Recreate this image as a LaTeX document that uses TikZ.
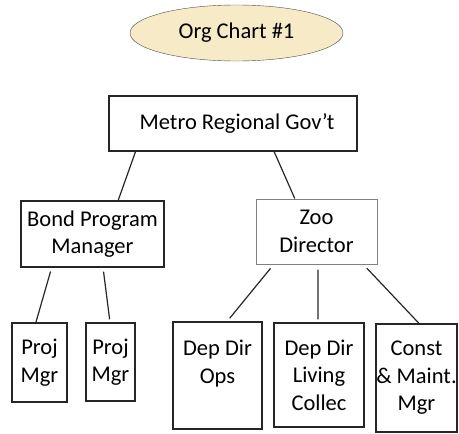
\documentclass[tikz,border=0pt]{standalone}
\usepackage{fontspec}
\setmainfont{Carlito}
\usetikzlibrary{shapes.geometric,calc}
\definecolor{chartfill}{HTML}{F6EBC6}
\begin{document}
\begin{tikzpicture}[x=1pt,y=-1pt,font=\fontsize{22.5}{27.5}\selectfont]
		\tikzstyle{box} = [draw=black!85, line width=1.3pt, align=center, inner sep=0]
		\tikzstyle{link} = [draw=black!85, line width=1.2pt]
		\useasboundingbox (0,0) rectangle (459,434);
		\node [ellipse, draw=black!70, fill=chartfill, minimum width=213pt, minimum height=56pt] (title) at (236.5,33) {Org Chart \#1};
		
		\node [box, minimum width=248pt, minimum height=55pt] (gov) at (233,123.5) {\hspace{8pt}Metro Regional Gov'\kern-1pt t};
		\node [box, minimum width=143pt, minimum height=66pt] (bond) at (92.5,234) {Bond Program\\Manager};
		\node [box, draw=black!50, line width=1pt, minimum width=121pt, minimum height=65pt] (zoo) at (316.5,231.5) {Zoo\\Director};
		
		\node [box, minimum width=55pt, minimum height=79pt] (pm1) at (39.5,362.5) {Proj\\Mgr};
		\node [box, minimum width=49pt, minimum height=78pt] (pm2) at (110.5,362) {Proj\\Mgr};
		\node [box, minimum width=89pt, minimum height=107pt] (ops) at (217.5,375.5) {Dep Dir\\Ops\\\mbox{}};
		\node [box, minimum width=90pt, minimum height=104pt] (living) at (319,375) {Dep Dir\\Living\\Collec};
		\node [box, minimum width=81pt, minimum height=108pt] (const) at (416.5,378) {Const\\\& Maint.\\Mgr};
		
		\draw [link] ($(gov.south west)!0.109!(gov.south east)$) -- ($(bond.north west)!0.678!(bond.north east)$);
		\draw [link] ($(gov.south west)!0.665!(gov.south east)$) -- ($(zoo.north west)!0.322!(zoo.north east)$);
		\draw [link, shorten <=4pt] ($(bond.south west)!0.217!(bond.south east)$) -- ($(pm1.north west)!0.436!(pm1.north east)$);
		\draw [link, shorten <=4pt, shorten >=3pt] ($(bond.south west)!0.573!(bond.south east)$) -- ($(pm2.north west)!0.49!(pm2.north east)$);
		\draw [link, shorten <=5pt, shorten >=4pt] ($(zoo.south west)!0.149!(zoo.south east)$) -- ($(ops.north west)!0.607!(ops.north east)$);
		\draw [link, shorten <=5pt, shorten >=3pt] ($(zoo.south west)!0.512!(zoo.south east)$) -- ($(living.north west)!0.489!(living.north east)$);
		\draw [link, shorten <=5pt] ($(zoo.south west)!0.884!(zoo.south east)$) -- ($(const.north west)!0.53!(const.north east)$);
\end{tikzpicture}
\end{document}
